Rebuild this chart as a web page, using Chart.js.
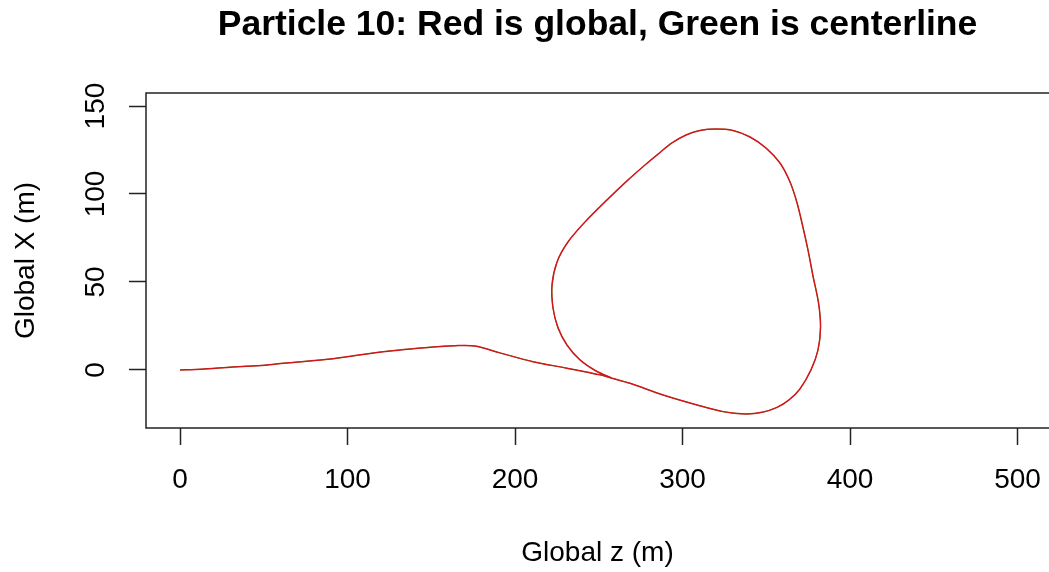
<!DOCTYPE html>
<html>
<head>
<meta charset="utf-8">
<script src="https://cdn.jsdelivr.net/npm/chart.js@4.4.1/dist/chart.umd.min.js"></script>
<style>
  html, body { margin: 0; padding: 0; background: #ffffff; }
  #wrap { width: 1049px; height: 572px; }
</style>
</head>
<body>
<div id="wrap"><canvas id="c" width="1049" height="572"></canvas></div>
<script>
// Text drawn on the plot
const titleText = 'Particle 10: Red is global, Green is centerline';
const zAxisTitle = 'Global z (m)';
const xAxisTitle = 'Global X (m)';

// Tick values
const zTicks = [0, 100, 200, 300, 400, 500];
const xTicks = [0, 50, 100, 150];

// Particle 10 trajectory in global coordinates (z along the track, X sideways):
// straight run-in, then one lap of the loop back to the crossing point
const globalZ = [
  0, 12.5, 31.5, 50.7, 61.7, 91.5, 121.4, 151.2, 164.2, 176.1,
  191.0, 210.7, 231.0, 250.7, 257.9,
  268.7, 288.4, 308.7, 324.2, 337.3, 347.5, 356.4, 363.6, 370.1, 376.7,
  380.9, 382.4, 381.2, 377.9, 374.9, 371.6, 368.4, 364.2, 358.2, 349.9,
  340.3, 330.1, 320.0, 310.4, 302.1, 293.7, 285.4, 277.6, 267.5, 253.7,
  241.8, 231.6, 225.1, 222.1, 222.7, 225.7, 231.0, 238.8, 248.4, 257.9
];
const globalX = [
  0, 0.4, 1.7, 2.7, 3.8, 6.4, 10.4, 13.1, 13.8, 13.6,
  9.7, 4.7, 1.0, -2.8, -4.7,
  -7.6, -14.2, -19.9, -23.7, -25.0, -24.1, -21.3, -17.0, -10.8, 0.0,
  11.4, 24.4, 38.1, 53.4, 68.2, 82.4, 94.9, 106.8, 117.6, 126.1,
  132.4, 136.1, 136.9, 136.1, 133.5, 129.0, 122.7, 116.5, 108.0, 95.5,
  84.1, 72.7, 61.4, 48.3, 35.2, 23.9, 14.2, 5.7, -0.6, -4.7
];

// The centerline follows the same course and lies underneath the global path
const centerlineZ = globalZ;
const centerlineX = globalX;

const toPoints = (zs, xs) => zs.map((z, i) => ({ x: z, y: xs[i] }));

const FONT = '"Liberation Sans", Arial, Helvetica, sans-serif';
const INK = '#222222';

// Plot frame plus vertical tick labels reading bottom-to-top
const framePlugin = {
  id: 'frame',
  afterDraw(chart) {
    const { ctx, chartArea: a, scales: { y } } = chart;
    ctx.save();
    ctx.strokeStyle = INK;
    ctx.lineWidth = 1.5;
    ctx.strokeRect(a.left, a.top, a.right + 4 - a.left, a.bottom - a.top);
    ctx.fillStyle = '#000000';
    ctx.font = '28px ' + FONT;
    ctx.textAlign = 'center';
    ctx.textBaseline = 'middle';
    y.ticks.forEach(t => {
      const p = y.getPixelForValue(t.value);
      ctx.save();
      ctx.translate(96, p);
      ctx.rotate(-Math.PI / 2);
      ctx.fillText(String(t.value), 0, 0);
      ctx.restore();
    });
    ctx.restore();
  }
};

new Chart(document.getElementById('c'), {
  type: 'scatter',
  data: {
    datasets: [
      {
        label: 'global',
        data: toPoints(globalZ, globalX),
        showLine: true,
        borderColor: '#d2161c',
        borderWidth: 1.5,
        pointRadius: 0,
        tension: 0.3,
        fill: false
      },
      {
        label: 'centerline',
        data: toPoints(centerlineZ, centerlineX),
        showLine: true,
        borderColor: '#00c000',
        borderWidth: 1,
        pointRadius: 0,
        tension: 0.3,
        fill: false
      }
    ]
  },
  options: {
    responsive: false,
    animation: false,
    devicePixelRatio: 1,
    layout: { padding: 0 },
    plugins: {
      legend: { display: false },
      tooltip: { enabled: false },
      title: {
        display: true,
        fullSize: false,
        text: titleText,
        color: '#000000',
        font: { family: FONT, size: 35.5, weight: 'bold', lineHeight: 1.2 },
        padding: { top: 4, bottom: 46.4 }
      }
    },
    scales: {
      x: {
        type: 'linear',
        min: -20.3,
        max: 518.8,
        afterBuildTicks: s => { s.ticks = zTicks.map(v => ({ value: v })); },
        afterFit: s => { s.height = 144; s.paddingLeft = 0; s.paddingRight = 0; },
        border: { display: false },
        grid: {
          drawOnChartArea: false,
          drawTicks: true,
          tickLength: 17,
          tickColor: INK,
          tickWidth: 1.5
        },
        ticks: {
          color: '#000000',
          font: { family: FONT, size: 28 },
          padding: 18,
          maxRotation: 0,
          autoSkip: false
        },
        title: {
          display: true,
          text: zAxisTitle,
          color: '#000000',
          font: { family: FONT, size: 28 },
          padding: { top: 0, bottom: 2 }
        }
      },
      y: {
        type: 'linear',
        min: -33.0,
        max: 157.4,
        afterBuildTicks: s => { s.ticks = xTicks.map(v => ({ value: v })); },
        afterFit: s => { s.width = 146; s.paddingTop = 0; s.paddingBottom = 0; },
        border: { display: false },
        grid: {
          drawOnChartArea: false,
          drawTicks: true,
          tickLength: 17,
          tickColor: INK,
          tickWidth: 1.5
        },
        ticks: { display: false },
        title: {
          display: true,
          text: xAxisTitle,
          color: '#000000',
          font: { family: FONT, size: 28 },
          padding: { top: 9, bottom: 0 }
        }
      }
    }
  },
  plugins: [framePlugin]
});
</script>
</body>
</html>
